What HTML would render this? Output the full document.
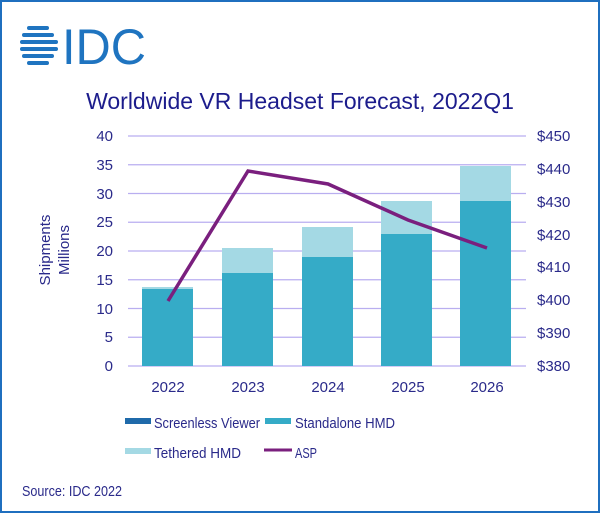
<!DOCTYPE html>
<html><head><meta charset="utf-8"><style>
body{margin:0;background:#fff}
svg text{font-family:"Liberation Sans",sans-serif;fill:#2a2a8a}
</style></head><body>
<svg width="600" height="513" viewBox="0 0 600 513" xmlns="http://www.w3.org/2000/svg">
<rect x="1" y="1" width="598" height="511" fill="#fff" stroke="#1f6fbf" stroke-width="2"/>
<g fill="#1f74c0">
<rect x="27" y="26" width="22" height="4" rx="2"/>
<rect x="22" y="33" width="32" height="4" rx="2"/>
<rect x="20" y="40" width="38" height="4" rx="2"/>
<rect x="20" y="47" width="38" height="4" rx="2"/>
<rect x="22" y="54" width="32" height="4" rx="2"/>
<rect x="27" y="61" width="22" height="4" rx="2"/>
</g>
<text x="62" y="64" font-size="50" style="fill:#1f74c0" textLength="84" lengthAdjust="spacingAndGlyphs">IDC</text>
<text x="300" y="109" font-size="23" text-anchor="middle" style="fill:#1c1c8c">Worldwide VR Headset Forecast, 2022Q1</text>
<g stroke="#b9aef0" stroke-width="1.3">
<line x1="128" x2="526" y1="136" y2="136"/><line x1="128" x2="526" y1="164.75" y2="164.75"/>
<line x1="128" x2="526" y1="193.5" y2="193.5"/><line x1="128" x2="526" y1="222.25" y2="222.25"/>
<line x1="128" x2="526" y1="251" y2="251"/><line x1="128" x2="526" y1="279.75" y2="279.75"/>
<line x1="128" x2="526" y1="308.5" y2="308.5"/><line x1="128" x2="526" y1="337.25" y2="337.25"/>
<line x1="128" x2="526" y1="366" y2="366"/>
</g>
<g font-size="15" text-anchor="end">
<text x="113" y="141">40</text><text x="113" y="170">35</text><text x="113" y="199">30</text>
<text x="113" y="227">25</text><text x="113" y="256">20</text><text x="113" y="285">15</text>
<text x="113" y="314">10</text><text x="113" y="342">5</text><text x="113" y="371">0</text>
</g>
<g font-size="15">
<text x="537" y="141">$450</text><text x="537" y="174">$440</text><text x="537" y="207">$430</text>
<text x="537" y="240">$420</text><text x="537" y="272">$410</text><text x="537" y="305">$400</text>
<text x="537" y="338">$390</text><text x="537" y="371">$380</text>
</g>
<g font-size="15" transform="rotate(-90)" text-anchor="middle">
<text x="-250" y="50">Shipments</text><text x="-250" y="69">Millions</text>
</g>
<g fill="#a4d9e4">
<rect x="142" y="287" width="51" height="79"/><rect x="222" y="248" width="51" height="118"/>
<rect x="302" y="227" width="51" height="139"/><rect x="381" y="201" width="51" height="165"/>
<rect x="460" y="166" width="51" height="200"/>
</g>
<g fill="#35abc7">
<rect x="142" y="289" width="51" height="77"/><rect x="222" y="273" width="51" height="93"/>
<rect x="302" y="257" width="51" height="109"/><rect x="381" y="234" width="51" height="132"/>
<rect x="460" y="201" width="51" height="165"/>
</g>
<polyline points="168,301 248,171 328,184 408,220 487,248" fill="none" stroke="#7a1f7e" stroke-width="3.5"/>
<g font-size="15" text-anchor="middle">
<text x="168" y="392">2022</text><text x="248" y="392">2023</text><text x="328" y="392">2024</text>
<text x="408" y="392">2025</text><text x="487" y="392">2026</text>
</g>
<rect x="125" y="418" width="26" height="6" fill="#1f6aaa"/>
<text x="154" y="428" font-size="15" textLength="106" lengthAdjust="spacingAndGlyphs">Screenless Viewer</text>
<rect x="265" y="418" width="26" height="6" fill="#35abc7"/>
<text x="295" y="428" font-size="15" textLength="100" lengthAdjust="spacingAndGlyphs">Standalone HMD</text>
<rect x="125" y="448" width="26" height="6" fill="#a4d9e4"/>
<text x="154" y="458" font-size="15" textLength="87" lengthAdjust="spacingAndGlyphs">Tethered HMD</text>
<line x1="264" x2="292" y1="450" y2="450" stroke="#7a1f7e" stroke-width="3"/>
<text x="295" y="458" font-size="15" textLength="22" lengthAdjust="spacingAndGlyphs">ASP</text>
<text x="22" y="496" font-size="15" textLength="100" lengthAdjust="spacingAndGlyphs">Source: IDC 2022</text>
</svg>
</body></html>
